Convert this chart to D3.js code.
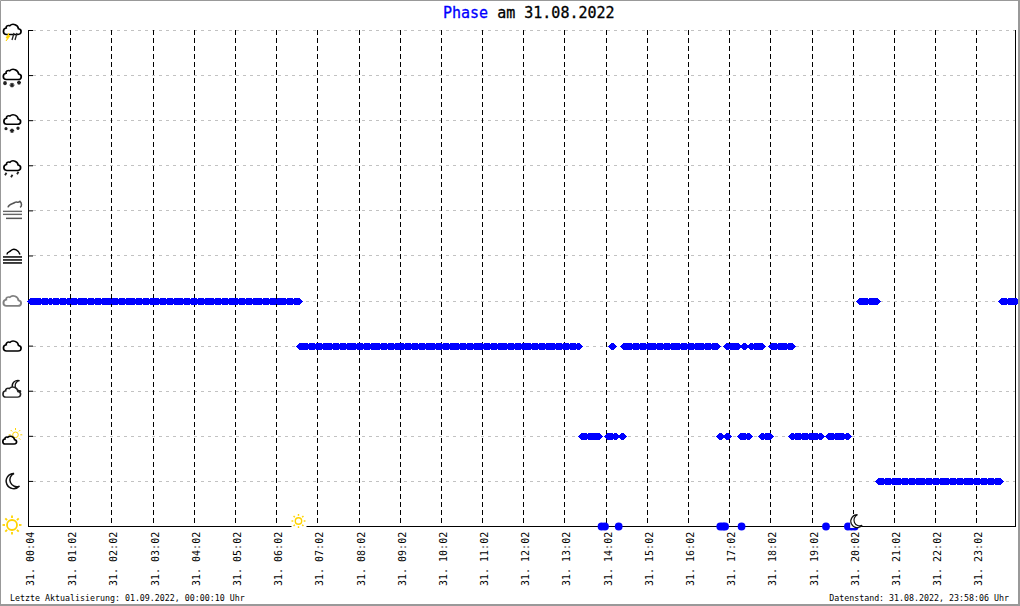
<!DOCTYPE html>
<html><head><meta charset="utf-8">
<script src="https://cdn.jsdelivr.net/npm/d3@7"></script>
<style>
html,body{margin:0;padding:0;background:#fff}
svg{display:block}
text{font-family:"DejaVu Sans Mono","Liberation Mono",monospace;fill:#000}
</style></head><body>
<svg id="c" width="1020" height="606"></svg>
<script>
// Minutes after midnight of each reading, per phase level
const level5 = [8,12,16,19,24,29,34,39,44,49,54,59,64,69,74,79,84,89,94,99,104,109,114,119,124,129,134,139,144,149,154,159,164,169,174,179,184,189,194,199,204,209,214,219,224,229,234,239,244,249,254,259,264,269,274,279,284,289,294,299,304,309,314,319,324,329,334,339,344,349,354,359,364,369,374,379,384,389,394,
  1212,1217,1222,1227,1232,1236,1419,1424,1429,1434,1438];
const level4 = [396,401,406,411,416,421,426,431,436,441,446,451,456,461,466,471,476,481,486,491,496,501,506,511,516,521,526,531,536,541,546,551,556,561,566,571,576,581,586,591,596,601,606,611,616,621,626,631,636,641,646,651,656,661,666,671,676,681,686,691,696,701,706,711,716,721,726,731,736,741,746,751,756,761,766,771,776,781,786,791,796,801,
  851,868,873,878,883,888,893,898,903,908,913,918,923,928,933,938,943,948,953,958,963,968,973,978,983,988,993,998,1003,
  1019,1024,1029,1034,1044,1054,1059,1064,1068,1084,1089,1094,1099,1104,1109,1112];
const level2 = [807,812,817,822,827,831,845,850,855,866,1009,1019,1039,1044,1049,1070,1075,1080,1114,1119,1124,1129,1134,1139,1144,1149,1155,1167,1172,1177,1182,1187,1193];
const level1 = [1240,1245,1250,1255,1260,1265,1270,1275,1280,1285,1290,1295,1300,1305,1310,1315,1320,1325,1330,1335,1340,1345,1350,1355,1360,1365,1370,1375,1380,1385,1390,1395,1400,1405,1410,1415];
const level0 = [836,841,861,1009,1013,1016,1040,1163,1195,1200,1205];
const tickMinutes = [4,62,122,182,242,302,362,422,482,542,602,662,722,782,842,902,962,1022,1082,1142,1202,1262,1322,1382];
const tickLabels = ["31. 00:04","31. 01:02","31. 02:02","31. 03:02","31. 04:02","31. 05:02","31. 06:02","31. 07:02","31. 08:02","31. 09:02","31. 10:02","31. 11:02","31. 12:02","31. 13:02","31. 14:02","31. 15:02","31. 16:02","31. 17:02","31. 18:02","31. 19:02","31. 20:02","31. 21:02","31. 22:02","31. 23:02"];
const levels = [0,1,2,3,4,5,6,7,8,9,10,11];
const sunriseMinute = 393;
const sunsetMinute = 1207;
const titleParts = ["Phase"," am 31.08.2022"];
const footerLeft = "Letzte Aktualisierung: 01.09.2022, 00:00:10 Uhr";
const footerRight = "Datenstand: 31.08.2022, 23:58:06 Uhr";

const svg = d3.select("#c");
const x = d3.scaleLinear().domain([4,62,1382,1438]).range([28,70.3,976.3,1015]);
const y = d3.scaleLinear().domain([0,11]).range([526,30]);
const px = v => Math.round(v)+0.5;
const GOLD = "#ffd400";

// grid
svg.append("g").selectAll("line").data(levels.slice(1)).join("line")
  .attr("x1",33).attr("x2",1015).attr("y1",d=>px(y(d))).attr("y2",d=>px(y(d)))
  .attr("stroke","#c2c2c2").attr("stroke-dasharray","3 4");
svg.append("g").selectAll("line").data(tickMinutes.slice(1)).join("line")
  .attr("x1",d=>px(x(d))).attr("x2",d=>px(x(d))).attr("y1",30).attr("y2",526)
  .attr("stroke","#000").attr("stroke-dasharray","5 3");

// axes
const ax = svg.append("g").attr("transform","translate(0,526)")
  .call(d3.axisBottom(x).tickValues(tickMinutes).tickSize(0).offset(0.5).tickFormat((d,i)=>tickLabels[i]));
ax.select(".domain").attr("d","M28.5,0.5H1016").attr("stroke","#000");
ax.selectAll("text")
  .attr("transform","translate(5.5,60) rotate(-90)")
  .attr("x",0).attr("y",0).attr("dy",0)
  .attr("text-anchor","start").style("font-size","10px").style("font-family",'"DejaVu Sans Mono",monospace');
const ay = svg.append("g").attr("transform","translate(28,0)")
  .call(d3.axisRight(y).tickValues(levels).tickSize(5).tickFormat("").offset(0.5));
ay.select(".domain").attr("d","M0.5,30V526.5").attr("stroke","#000");
ay.selectAll("line").attr("stroke","#000");
svg.append("line").attr("x1",1015.5).attr("x2",1015.5).attr("y1",30).attr("y2",527).attr("stroke","#000");

// markers
const wideDiamond = {draw(ctx,size){const r=Math.sqrt(size),h=r*0.9;ctx.moveTo(-r,0);ctx.lineTo(-1,-h);ctx.lineTo(1,-h);ctx.lineTo(r,0);ctx.lineTo(1,h);ctx.lineTo(-1,h);ctx.closePath();}};
const series = [[5,level5],[4,level4],[2,level2],[1,level1]];
const pts = svg.append("g").attr("shape-rendering","crispEdges");
series.forEach(([lv,vals])=>{
  pts.selectAll(null).data(vals).join("path")
    .attr("d",d3.symbol().type(wideDiamond).size(19.4))
    .attr("transform",d=>`translate(${Math.round(x(d))+0.5},${px(y(lv))})`)
    .attr("fill","#0000ff");
});
svg.append("g").selectAll("circle").data(level0).join("circle")
  .attr("cx",d=>x(d)).attr("cy",px(y(0))).attr("r",3.9).attr("fill","#0000ff");

// icons
const CLOUD="M-5.5 6H6C9.8 6 10.2 .4 6.5 -.2C6 -4.4 .8 -7 -2.2 -3.6C-4.2 -4.6 -6.2 -3.1 -5.8 -1C-9.4 -.5 -9.6 6 -5.5 6Z";
const MOON="M1.5 -7.4A7.6 7.6 0 1 0 7 5.2A6.8 6.8 0 0 1 1.5 -7.4Z";
function cloud(g,dx,dy,s,col,sw){
  g.append("path").attr("d",CLOUD).attr("transform",`translate(${dx},${dy}) scale(${s},${s*0.9})`)
   .attr("fill","#fff").attr("stroke",col).attr("stroke-width",sw/s);
}
function sun(g,dx,dy,r,len,col,sw){
  g.append("circle").attr("cx",dx).attr("cy",dy).attr("r",r).attr("fill","none").attr("stroke",col).attr("stroke-width",sw);
  d3.range(8).forEach(i=>{
    const a=i*Math.PI/4,c=Math.cos(a),s=Math.sin(a);
    g.append("line").attr("x1",dx+c*(r+2)).attr("y1",dy+s*(r+2)).attr("x2",dx+c*(r+2+len)).attr("y2",dy+s*(r+2+len))
     .attr("stroke",col).attr("stroke-width",sw);
  });
}
function star(g,dx,dy,r){
  [0,60,120].forEach(a=>{
    g.append("line").attr("x1",-r).attr("x2",r).attr("y1",0).attr("y2",0)
     .attr("transform",`translate(${dx},${dy}) rotate(${a})`).attr("stroke","#222").attr("stroke-width",1.4);
  });
}
function bars(g,x1,x2,ys,col,sw){
  ys.forEach(v=>g.append("line").attr("x1",x1).attr("x2",x2).attr("y1",v).attr("y2",v).attr("stroke",col).attr("stroke-width",sw));
}
const icons = svg.append("g");
const iconAt = l => icons.append("g").attr("transform",`translate(12,${y(l)})`);
let g;
g=iconAt(0); sun(g,0,-1,5,2.5,GOLD,1.8);
g=iconAt(1); g.append("path").attr("d",MOON).attr("transform","translate(0.5,0)").attr("fill","#fff").attr("stroke","#111").attr("stroke-width",1.5);
g=iconAt(2); sun(g,3.5,-1,2.8,2,GOLD,1); cloud(g,-2.5,4,.78,"#000",1.7);
g=iconAt(3); g.append("path").attr("d",MOON).attr("transform","translate(5,-5) scale(.75) rotate(15)").attr("fill","#fff").attr("stroke","#111").attr("stroke-width",1.8); cloud(g,-.5,1,1,"#222",1.6);
g=iconAt(4); cloud(g,0,0,1,"#000",1.7);
g=iconAt(5); cloud(g,0,0,1,"#808080",1.9);
g=iconAt(6); g.append("path").attr("d","M-5 -1C-5 -4 -2 -3 -1 -5C2 -8 7 -5 8 -1").attr("fill","none").attr("stroke","#000").attr("stroke-width",1.5); bars(g,-9,10,[1.5,4.5,7.5],"#000",1.5);
g=iconAt(7); g.append("path").attr("d","M-4 -3C-3 -7 1 -6 3 -8C5 -9 6 -7 8 -9C10 -7 10 -4 8 -3").attr("fill","none").attr("stroke","#555").attr("stroke-width",1.5); bars(g,-9,10,[1,4],"#666",1.4);bars(g,-6,10,[8],"#555",1.5);
g=iconAt(8); cloud(g,0,0,.95,"#000",1.7); [[-7,10],[-1,12],[5,9]].forEach(p=>g.append("line").attr("x1",p[0]).attr("y1",p[1]).attr("x2",p[0]+1.5).attr("y2",p[1]-2.5).attr("stroke","#222").attr("stroke-width",1.8));
g=iconAt(9); cloud(g,0,-1,.95,"#000",1.7); star(g,-6,8.5,1.5); star(g,0,10.5,2.2); star(g,6,8,1.6);
g=iconAt(10); cloud(g,0,-1,1.02,"#000",1.7); star(g,-7,8,2); star(g,0,10,2.4); star(g,7,7.5,2);
g=iconAt(11); cloud(g,0,-1,1,"#000",1.7);
g.append("path").attr("d","M-3 3L-6 8H-4L-6 11L-2 6H-4Z").attr("fill",GOLD).attr("stroke",GOLD).attr("stroke-width",.8);
[[1,3],[4,3]].forEach(p=>g.append("line").attr("x1",p[0]+1).attr("y1",p[1]).attr("x2",p[0]-1).attr("y2",p[1]+7).attr("stroke","#222").attr("stroke-width",1.3));

// sunrise / sunset markers on the axis
const sr = svg.append("g").attr("transform",`translate(${x(sunriseMinute)+1},${y(0)-5})`);
sr.append("rect").attr("x",-7).attr("y",-7).attr("width",15).attr("height",14).attr("fill","#fff");
sun(sr,0,0,3.2,1.8,GOLD,1.4);
const ss = svg.append("g").attr("transform",`translate(${x(sunsetMinute)},${y(0)-5})`);
ss.append("rect").attr("x",-6).attr("y",-7).attr("width",10).attr("height",14).attr("fill","#fff");
ss.append("path").attr("d",MOON).attr("transform","scale(.85)").attr("fill","#fff").attr("stroke","#111").attr("stroke-width",1.4);

// text
const t = svg.append("text").attr("x",443).attr("y",18).style("font-size","15px").attr("xml:space","preserve").style("stroke-width",0.3);
t.append("tspan").text(titleParts[0]).style("fill","#0000ff").style("stroke","#0000ff");
t.append("tspan").text(titleParts[1]).style("white-space","pre").style("stroke","#000");
svg.append("text").attr("x",10).attr("y",601).style("font-size","8.3px").text(footerLeft);
svg.append("text").attr("x",1009).attr("y",601).attr("text-anchor","end").style("font-size","8.3px").text(footerRight);

// frame
svg.append("path").attr("d","M0.5 0.5H1018.5V605M1018.5 605H0.5V0.5").attr("fill","none").attr("stroke","#999");
svg.append("rect").attr("x",1018).attr("y",0).attr("width",2).attr("height",606).attr("fill","#999");
svg.append("rect").attr("x",0).attr("y",604).attr("width",1020).attr("height",2).attr("fill","#999");
</script>
</body></html>
